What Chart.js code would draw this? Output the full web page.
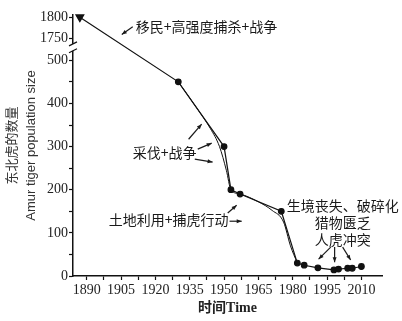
<!DOCTYPE html>
<html>
<head>
<meta charset="utf-8">
<script src="https://cdn.jsdelivr.net/npm/chart.js@4.4.1/dist/chart.umd.min.js"></script>
<style>
html, body { margin: 0; padding: 0; background: #fff; }
</style>
</head>
<body>
<canvas id="chart" width="402" height="321"></canvas>
<script>
// survey points (year, tigers)
const years  = [1887, 1930, 1950, 1953, 1957, 1975, 1982, 1985, 1991, 1998, 2000, 2004, 2006, 2010];
const counts = [1800, 450, 300, 200, 190, 150, 30, 25, 19, 14, 16, 18, 18, 22];

// smoothed trend curve
const curveYears  = [1930, 1938, 1944, 1948, 1951, 1953, 1957, 1965, 1971, 1976, 1979, 1982];
const curveCounts = [450, 390, 342, 300, 245, 200, 190, 172, 152, 125, 70, 30];

const xTicks = [1890, 1897.5, 1905, 1912.5, 1920, 1927.5, 1935, 1942.5, 1950, 1957.5, 1965, 1972.5, 1980, 1987.5, 1995, 2002.5, 2010];
const xTickLabels = [1890, 1905, 1920, 1935, 1950, 1965, 1980, 1995, 2010];
const yTicks = [0, 50, 100, 150, 200, 250, 300, 350, 400, 450, 500, 1750, 1800];
const yTickLabels = [0, 100, 200, 300, 400, 500, 1750, 1800];

// axis break: 500..1700 is cut out
const breakLow = 500, breakHigh = 1700;
function squash(v) {
    if (v <= breakLow) return v;
    if (v >= breakHigh) return v - (breakHigh - breakLow);
    return breakLow;
}
function unsquash(v) {
    return v <= breakLow ? v : v + (breakHigh - breakLow);
}

class BrokenScale extends Chart.LinearScale {
    getPixelForValue(value) {
        return super.getPixelForValue(value == null ? value : squash(value));
    }
    getValueForPixel(pixel) {
        return unsquash(super.getValueForPixel(pixel));
    }
}
BrokenScale.id = 'broken';
BrokenScale.defaults = Chart.LinearScale.defaults;
Chart.register(BrokenScale);

const notes = [
    { lines: ['移民+高强度捕杀+战争'], year: 1911.4, count: 1779, align: 'left' },
    { lines: ['采伐+战争'], year: 1910.1, count: 285, align: 'left' },
    { lines: ['土地利用+捕虎行动'], year: 1899.6, count: 130, align: 'left' },
    { lines: ['生境丧失、破碎化', '猎物匮乏', '人虎冲突'], year: 2001.8, count: 164, align: 'center' }
];

const arrows = [
    [1910.1, 1778, 1905.3, 1760],
    [1934.5, 317, 1940.2, 352],
    [1938.5, 294, 1944.6, 308],
    [1937.2, 271, 1945.0, 264],
    [1951.6, 146, 1955.5, 164],
    [1952.4, 127, 1957.7, 127],
    [1996.6, 67, 1991.3, 39],
    [1998.3, 67, 1998.3, 32],
    [2001.8, 67, 2005.3, 37]
];

const extras = {
    id: 'extras',
    afterDraw(chart) {
        const ctx = chart.ctx;
        const xs = chart.scales.x, ys = chart.scales.y;
        ctx.save();

        // break marks on the y axis
        const ax = ys.right;
        const b1 = ys.getPixelForValue(1722), b2 = ys.getPixelForValue(1738);
        ctx.fillStyle = '#fff';
        ctx.fillRect(ax - 2, b2, 4, b1 - b2);
        ctx.strokeStyle = '#111';
        ctx.lineWidth = 1.2;
        [b1, b2].forEach(b => {
            ctx.beginPath();
            ctx.moveTo(ax - 4, b + 2);
            ctx.lineTo(ax + 4, b - 2);
            ctx.stroke();
        });

        // text notes
        ctx.fillStyle = '#1a1a1a';
        ctx.font = '14px "Noto Sans CJK SC", sans-serif';
        ctx.textBaseline = 'middle';
        notes.forEach(n => {
            ctx.textAlign = n.align;
            const px = xs.getPixelForValue(n.year);
            const py = ys.getPixelForValue(n.count);
            n.lines.forEach((t, i) => ctx.fillText(t, px, py + i * 17));
        });

        // arrows
        ctx.strokeStyle = '#1a1a1a';
        ctx.lineWidth = 1.2;
        arrows.forEach(a => {
            const x1 = xs.getPixelForValue(a[0]), y1 = ys.getPixelForValue(a[1]);
            const x2 = xs.getPixelForValue(a[2]), y2 = ys.getPixelForValue(a[3]);
            const ang = Math.atan2(y2 - y1, x2 - x1);
            ctx.beginPath();
            ctx.moveTo(x1, y1);
            ctx.lineTo(x2, y2);
            ctx.stroke();
            ctx.beginPath();
            ctx.moveTo(x2, y2);
            ctx.lineTo(x2 - 5 * Math.cos(ang) + 2 * Math.sin(ang), y2 - 5 * Math.sin(ang) - 2 * Math.cos(ang));
            ctx.lineTo(x2 - 5 * Math.cos(ang) - 2 * Math.sin(ang), y2 - 5 * Math.sin(ang) + 2 * Math.cos(ang));
            ctx.closePath();
            ctx.fill();
        });
        ctx.restore();
    }
};

const tickFont = { family: '"Liberation Serif", serif', size: 14 };

new Chart(document.getElementById('chart'), {
    type: 'line',
    data: {
        datasets: [
            {
                data: years.map((y, i) => ({ x: y, y: counts[i] })),
                borderColor: '#111',
                backgroundColor: '#111',
                borderWidth: 1.2,
                pointStyle: years.map((y, i) => i === 0 ? 'triangle' : 'circle'),
                pointRotation: years.map((y, i) => i === 0 ? 180 : 0),
                pointRadius: years.map((y, i) => i === 0 ? 4.5 : 2.8),
                tension: 0,
                clip: false
            },
            {
                data: curveYears.map((y, i) => ({ x: y, y: curveCounts[i] })),
                borderColor: '#111',
                borderWidth: 1,
                pointRadius: 0,
                cubicInterpolationMode: 'monotone',
                clip: false
            }
        ]
    },
    options: {
        responsive: false,
        animation: false,
        devicePixelRatio: 1,
        layout: { padding: { top: 15, right: 20, bottom: 0, left: 0 } },
        plugins: { legend: { display: false }, tooltip: { enabled: false } },
        scales: {
            x: {
                type: 'linear',
                min: 1884,
                max: 2019,
                border: { color: '#111', width: 1.5 },
                grid: { drawOnChartArea: false, tickLength: 4, tickColor: '#111', tickWidth: 1.2 },
                ticks: {
                    autoSkip: false, maxRotation: 0, padding: 2, color: '#222', font: tickFont,
                    callback: v => xTickLabels.includes(v) ? String(v) : ''
                },
                afterBuildTicks: axis => { axis.ticks = xTicks.map(v => ({ value: v })); },
                afterFit: axis => { axis.height = 45; },
                title: {
                    display: true, text: '时间Time', color: '#222',
                    font: { family: '"Liberation Serif", "Noto Sans CJK SC", serif', size: 14, weight: 'bold' },
                    padding: { top: 0, bottom: 4 }
                }
            },
            y: {
                type: 'broken',
                min: 0,
                max: 605,
                border: { color: '#111', width: 1.5 },
                grid: { drawOnChartArea: false, tickLength: 4, tickColor: '#111', tickWidth: 1.2 },
                ticks: {
                    padding: 1, color: '#222', font: tickFont,
                    callback: v => yTickLabels.includes(v) ? String(v) : ''
                },
                afterBuildTicks: axis => { axis.ticks = yTicks.map(v => ({ value: v })); },
                afterFit: axis => { axis.width = 73; },
                title: {
                    display: true, text: ['东北虎的数量', 'Amur tiger population size'], color: '#333',
                    font: { family: '"Liberation Sans", "Noto Sans CJK SC", sans-serif', size: 13, lineHeight: 1.45 },
                    padding: { top: 3, bottom: 0 }
                }
            }
        }
    },
    plugins: [extras]
});
</script>
</body>
</html>
